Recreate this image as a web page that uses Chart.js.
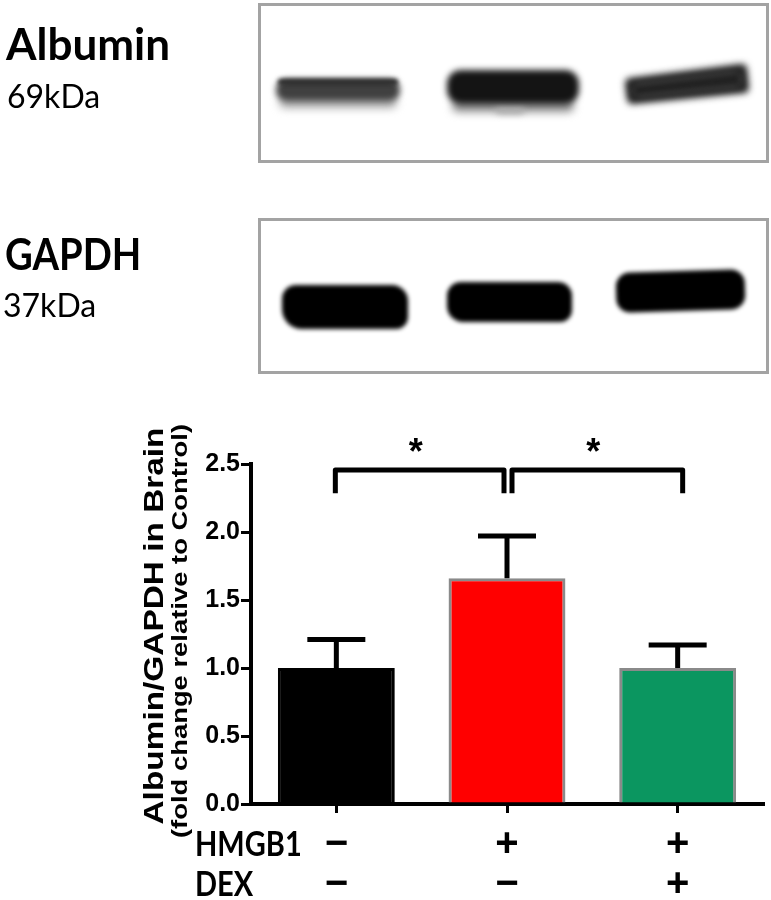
<!DOCTYPE html>
<html><head><meta charset="utf-8">
<script src="https://cdn.jsdelivr.net/npm/chart.js@4/dist/chart.umd.min.js"></script>
<style>
html,body{margin:0;padding:0;background:#fff;}
#wrap{position:relative;width:771px;height:900px;overflow:hidden;background:#fff;}
#blot{position:absolute;left:0;top:0;}
#chart{position:absolute;left:0;top:380px;}
</style></head><body>
<div id="wrap">
<canvas id="blot" width="771" height="380"></canvas>
<canvas id="chart" width="771" height="520"></canvas>
</div>
<script>
// ---- data ----
const groups = ['Control', 'HMGB1', 'HMGB1 + DEX'];
const hmgb1Row = ['\u2212', '+', '+'];
const dexRow = ['\u2212', '\u2212', '+'];
const rowNames = ['HMGB1', 'DEX'];
const means = [1.00, 1.66, 1.00];
const semUpper = [0.21, 0.31, 0.17];
const barColors = ['#000000', '#ff0000', '#0b9660'];
const barBorders = ['#000000', '#8a8a8a', '#8a8a8a'];
const yTickLabels = ['0.0', '0.5', '1.0', '1.5', '2.0', '2.5'];
const comparisons = [[0, 1, '*'], [1, 2, '*']];
const yTitle = ['Albumin/GAPDH in Brain', '(fold change relative to Control)'];
const blotNames = ['Albumin', 'GAPDH'];
const blotSizes = ['69kDa', '37kDa'];

// ---- western blot panel (decorative image) ----
(function drawBlot(){
  const b = document.getElementById('blot').getContext('2d');
  b.fillStyle = '#fff'; b.fillRect(0,0,771,380);
  function rr(x,y,w,h,r,color,blur){
    b.save(); b.filter = 'blur(' + blur + 'px)'; b.fillStyle = color;
    b.beginPath(); b.roundRect(x,y,w,h,r); b.fill(); b.restore();
  }
  function poly(pts,color,blur){
    b.save(); b.filter = 'blur(' + blur + 'px)'; b.fillStyle = color;
    b.lineJoin = 'round'; b.lineWidth = 10; b.strokeStyle = color;
    b.beginPath(); b.moveTo(pts[0][0],pts[0][1]);
    for (let i=1;i<pts.length;i++) b.lineTo(pts[i][0],pts[i][1]);
    b.closePath(); b.fill(); b.stroke(); b.restore();
  }
  // Albumin bands
  rr(279,96,118,12,6,'#a8a8a8',4);
  rr(276,79,124,22,10,'#404040',3);
  rr(278,79,120,6,3,'#2a2a2a',2);
  rr(452,99,122,13,6,'#8a8a8a',4);
  rr(495,104,30,10,5,'#b0b0b0',3);
  rr(447,70,132,34,14,'#141414',3);
  poly([[630,83],[742,69],[744,88],[632,99]],'#222',3.5);
  // GAPDH bands
  rr(282,285,126,44,[14,16,12,20],'#000',2.2);
  rr(447,282,125,40,[14,14,12,16],'#000',2.2);
  b.save(); b.translate(680,290); b.rotate(-0.03);
  rr(-64,-19,129,40,[14,14,14,14],'#000',2.2); b.restore();
  // boxes
  b.strokeStyle = '#a3a3a3'; b.lineWidth = 3;
  b.strokeRect(259.5,4.5,508,157);
  b.strokeRect(259.5,219.5,508,153);
  // labels
  b.fillStyle = '#000'; b.textBaseline = 'alphabetic'; b.textAlign = 'left';
  b.font = 'bold 44px Lato'; b.fillText(blotNames[0], 6, 60);
  b.font = '32px Lato'; b.fillText(blotSizes[0], 7, 108);
  b.save(); b.translate(5, 270); b.scale(0.87, 1);
  b.font = 'bold 44px Lato'; b.fillText(blotNames[1], 0, 0); b.restore();
  b.font = '32px Lato'; b.fillText(blotSizes[1], 3, 317);
})();

// ---- chart ----
const overlay = {
  id: 'overlay',
  afterDatasetsDraw(chart){
    const ctx = chart.ctx, xs = chart.scales.x, ys = chart.scales.y;
    ctx.save();
    ctx.strokeStyle = '#000'; ctx.lineWidth = 5; ctx.lineCap = 'butt';
    means.forEach((m,i) => {
      const px = xs.getPixelForValue(i);
      const y0 = ys.getPixelForValue(m), y1 = ys.getPixelForValue(m + semUpper[i]);
      ctx.beginPath(); ctx.moveTo(px, y0); ctx.lineTo(px, y1); ctx.stroke();
      ctx.beginPath(); ctx.moveTo(px - 29, y1); ctx.lineTo(px + 29, y1); ctx.stroke();
    });
    ctx.restore();
  },
  afterDraw(chart){
    const ctx = chart.ctx, xs = chart.scales.x, ys = chart.scales.y;
    ctx.save();
    // significance brackets
    ctx.strokeStyle = '#000'; ctx.lineWidth = 5; ctx.lineJoin = 'round'; ctx.lineCap = 'butt';
    const yTop = ys.getPixelForValue(2.455), yBot = ys.getPixelForValue(2.285);
    const offs = [[-1, -3], [5, 5]];
    comparisons.forEach((c, k) => {
      const xa = xs.getPixelForValue(c[0]) + offs[k][0];
      const xb = xs.getPixelForValue(c[1]) + offs[k][1];
      ctx.beginPath(); ctx.moveTo(xa, yBot); ctx.lineTo(xa, yTop); ctx.lineTo(xb, yTop); ctx.lineTo(xb, yBot); ctx.stroke();
      ctx.fillStyle = '#000'; ctx.font = 'bold 36px "Liberation Sans", Arial';
      ctx.textAlign = 'center'; ctx.textBaseline = 'alphabetic';
      ctx.fillText(c[2], (xa + xb) / 2 - 4, ys.getPixelForValue(2.65) + 20);
    });
    // y axis title (two lines, rotated, stretched)
    function stretched(text, font, cx, cy, len){
      ctx.save(); ctx.font = font;
      const w = ctx.measureText(text).width;
      ctx.translate(cx, cy); ctx.rotate(-Math.PI / 2); ctx.scale(len / w, 1);
      ctx.textAlign = 'center'; ctx.textBaseline = 'middle'; ctx.fillStyle = '#000';
      ctx.fillText(text, 0, 0); ctx.restore();
    }
    stretched(yTitle[0], 'bold 27px "Liberation Sans", Arial', 156, 246, 397);
    stretched(yTitle[1], 'bold 22px "Liberation Sans", Arial', 181, 251, 414);
    // row names for the condition table
    ctx.fillStyle = '#000'; ctx.textAlign = 'left'; ctx.textBaseline = 'alphabetic';
    ctx.font = 'bold 29px Lato';
    const rowsY = [476, 516];
    rowNames.forEach((r, i) => {
      ctx.save(); ctx.translate(195, rowsY[i]); ctx.scale(1, 1.2); ctx.fillText(r, 0, 0); ctx.restore();
    });
    ctx.restore();
  }
};

new Chart(document.getElementById('chart'), {
  type: 'bar',
  data: {
    labels: groups.map((g, i) => [hmgb1Row[i], dexRow[i]]),
    datasets: [{
      label: 'Albumin/GAPDH',
      data: means,
      backgroundColor: barColors,
      borderColor: barBorders,
      borderWidth: 3,
      categoryPercentage: 1,
      barPercentage: 0.685
    }]
  },
  options: {
    responsive: false,
    animation: false,
    devicePixelRatio: 1,
    layout: { padding: { top: 84, right: 8, left: 0, bottom: 0 } },
    plugins: { legend: { display: false }, tooltip: { enabled: false }, title: { display: false } },
    scales: {
      x: {
        offset: true,
        grid: { display: true, offset: false, drawOnChartArea: false, drawTicks: true, tickLength: 9, lineWidth: 3, color: '#000' },
        border: { display: true, width: 4, color: '#000' },
        ticks: { color: '#000', font: { family: '"Liberation Sans", Arial', weight: 'bold', size: 40, lineHeight: '40px' }, padding: 12, maxRotation: 0, autoSkip: false },
        afterFit(s){ s.height = 96; }
      },
      y: {
        min: 0, max: 2.5,
        grid: { display: true, drawOnChartArea: false, drawTicks: true, tickLength: 10, lineWidth: 3, color: '#000' },
        border: { display: true, width: 4, color: '#000' },
        ticks: { stepSize: 0.5, color: '#000', padding: 1,
          font: { family: '"Liberation Sans", Arial', weight: 'bold', size: 25 },
          callback: (v, i) => yTickLabels[i] },
        afterFit(s){ s.width = 251; }
      }
    }
  },
  plugins: [overlay]
});
</script>
</body></html>
